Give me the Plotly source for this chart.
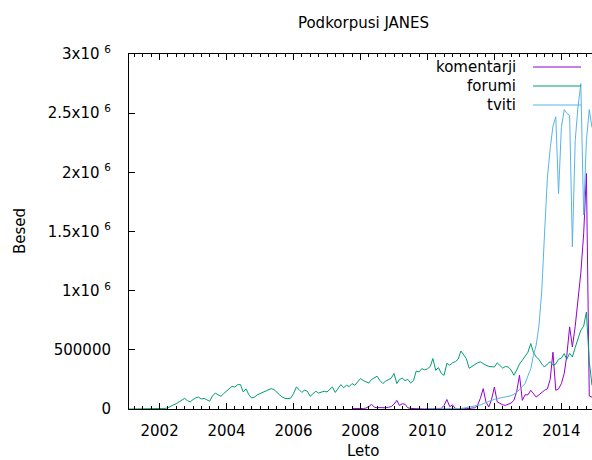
import pandas as pd
import plotly.graph_objects as go

# ---- data (values in thousands of words, monthly) ----
forumi_start = "2001-02-01"
forumi_k = [
    0, 0, 4, 0, 0, 0, 0, 0, 3, 0, 0,                       # 2001 Feb-Dec
    0, 2, 5, 10, 25, 35, 45, 60, 75, 90, 70, 60,           # 2002
    80, 95, 100, 85, 90, 75, 65, 110, 135, 120, 107, 130,  # 2003
    150, 175, 192, 185, 205, 206, 144, 170, 120, 93, 100, 120,  # 2004
    130, 144, 150, 160, 172, 165, 140, 120, 100, 90, 88, 92,    # 2005
    130, 186, 165, 140, 160, 150, 107, 125, 150, 135, 145, 150,  # 2006
    144, 165, 186, 140, 170, 206, 180, 200, 190, 215, 200, 230,  # 2007
    257, 240, 230, 220, 250, 265, 277, 240, 215, 235, 250, 260,  # 2008
    300, 215, 250, 260, 240, 250, 220, 240, 321, 313, 341, 330,  # 2009
    340, 360, 426, 327, 350, 300, 285, 386, 370, 390, 400, 420,  # 2010
    490, 460, 426, 344, 360, 380, 390, 398, 380, 370, 360, 355,  # 2011
    355, 390, 370, 345, 360, 355, 330, 285, 330, 380, 412, 450,  # 2012
    480, 553, 480, 440, 420, 380, 355, 380, 400, 370, 380, 420,  # 2013
    430, 468, 420, 470, 440, 520, 600, 666, 700, 820, 400, 200,  # 2014
]

komentarji_start = "2007-10-01"
komentarji_k = [
    3, 5, 2,                                               # 2007 Oct-Dec
    5, 3, 8, 20, 40, 15, 10, 12, 8, 10, 15, 20,            # 2008
    40, 73, 30, 45, 40, 10, 5, 3, 5, 2, 0, 0,              # 2009
    2, 0, 3, 5, 2, 5, 30, 80, 20, 35, 5, 3,                # 2010
    3, 2, 5, 3, 8, 10, 30, 90, 172, 60, 17, 80,            # 2011
    186, 60, 48, 35, 31, 40, 50, 73, 150, 285, 73, 120,    # 2012
    120, 158, 130, 101, 120, 140, 158, 170, 250, 480, 158, 170,  # 2013
    215, 300, 450, 694, 524, 700, 919, 1150, 1480, 1990, 110, 100,  # 2014
]

tviti_start = "2010-01-01"
tviti_k = [
    1, 1, 1, 2, 2, 2, 1, 2, 2, 3, 3, 4,                    # 2010
    5, 8, 12, 16, 20, 24, 28, 35, 45, 55, 65, 75,          # 2011
    82, 88, 92, 96, 100, 105, 112, 125, 140, 165, 190, 215,  # 2012
    280, 340, 450, 540, 700, 1000, 1480, 1950, 2200, 2390, 2470, 1820,  # 2013
    2380, 2530, 2500, 2480, 1370, 2270, 2550, 2750, 1640, 2270, 2530, 2380,  # 2014
]

series = [
    ("komentarji", komentarji_start, komentarji_k, "#9400d3"),
    ("forumi", forumi_start, forumi_k, "#009e73"),
    ("tviti", tviti_start, tviti_k, "#56b4e9"),
]

y_tickvals = [0, 500000, 1000000, 1500000, 2000000, 2500000, 3000000]
y_ticktext = ["0", "500000", "1x10 <sup>6</sup>", "1.5x10 <sup>6</sup>",
              "2x10 <sup>6</sup>", "2.5x10 <sup>6</sup>", "3x10 <sup>6</sup>"]

FONT = "DejaVu Sans"
W, H = 592, 460
L, R, T, B = 129, 0, 54, 51

fig = go.Figure()
for name, start, vals_k, color in series:
    dates = pd.date_range(start, periods=len(vals_k), freq="MS")
    fig.add_trace(go.Scatter(
        x=dates, y=[v * 1000 for v in vals_k], mode="lines", name=name,
        line=dict(color=color, width=1), showlegend=False,
    ))

# pixel -> paper coordinate helpers
pw, ph = W - L - R, H - T - B
def px_x(px):
    return (px - L) / pw
def px_y(py):
    return (H - B - py) / ph

# gnuplot-style legend: text right-aligned, sample line to the right
legend_rows = [67, 86, 105]
for (name, _, _, color), py in zip(series, legend_rows):
    fig.add_annotation(x=px_x(518), y=px_y(py), xref="paper", yref="paper",
                       text=name, showarrow=False, xanchor="right", yanchor="middle",
                       font=dict(family=FONT, size=15, color="black"))
    fig.add_shape(type="line", xref="paper", yref="paper",
                  x0=px_x(533), x1=px_x(581), y0=px_y(py), y1=px_y(py),
                  line=dict(color=color, width=1))

# axis titles
fig.add_annotation(x=px_x(363), y=px_y(451), xref="paper", yref="paper",
                   text="Leto", showarrow=False, xanchor="center", yanchor="middle",
                   font=dict(family=FONT, size=15, color="black"))
fig.add_annotation(x=px_x(20), y=px_y(231), xref="paper", yref="paper",
                   text="Besed", showarrow=False, xanchor="center", yanchor="middle",
                   textangle=-90, font=dict(family=FONT, size=15, color="black"))

fig.update_layout(
    width=W, height=H,
    margin=dict(l=L, r=R, t=T, b=B, autoexpand=False),
    paper_bgcolor="white", plot_bgcolor="white",
    font=dict(family=FONT, size=15, color="black"),
    title=dict(text="Podkorpusi JANES", x=363.5 / W, xanchor="center",
               y=1 - 23 / H, yanchor="middle", yref="container",
               font=dict(family=FONT, size=15, color="black")),
    xaxis=dict(
        type="date", range=["2001-02-01", "2014-12-01"],
        tick0="2002-01-01", dtick="M24", tickformat="%Y",
        ticks="inside", ticklen=6, tickcolor="black", tickwidth=1,
        showline=True, linecolor="black", linewidth=1, mirror="ticks",
        showgrid=False, zeroline=False, ticklabelstandoff=8,
        minor=dict(dtick="M3", ticks="inside", ticklen=3, tickcolor="black", showgrid=False),
    ),
    yaxis=dict(
        range=[0, 3000000], tickvals=y_tickvals, ticktext=y_ticktext,
        ticks="inside", ticklen=6, tickcolor="black", tickwidth=1,
        showline=True, linecolor="black", linewidth=1, mirror=False,
        showgrid=False, zeroline=False, ticklabelstandoff=14,
    ),
)

fig.write_html("out.html", config={"displayModeBar": False},
               post_script="document.body.style.margin='0';")
